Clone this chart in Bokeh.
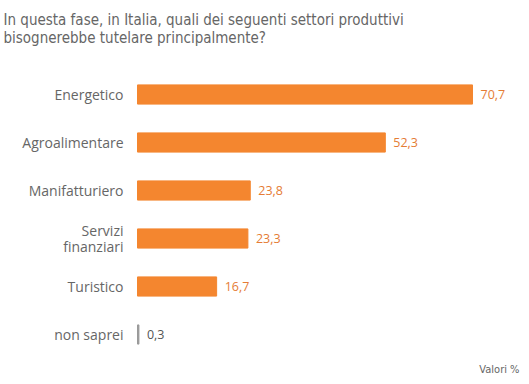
from bokeh.plotting import figure
from bokeh.models import ColumnDataSource, Range1d, Label
from bokeh.embed import file_html
from bokeh.resources import INLINE
from bokeh.core.properties import value

categories = ["Energetico", "Agroalimentare", "Manifatturiero", "Servizi\nfinanziari", "Turistico", "non saprei"]
values = [70.7, 52.3, 23.8, 23.3, 16.7, 0.3]
value_labels = ["70,7", "52,3", "23,8", "23,3", "16,7", "0,3"]

W, H = 521, 376
px_per_unit = 335 / 70.7
x0_px = 137
x_start = -x0_px / px_per_unit
x_end = (W - x0_px) / px_per_unit
row_px = 48
first_px = 94
y_top = -first_px / row_px
y_bot = (H - first_px) / row_px

idx = list(range(len(categories)))
bar_colors = ["#F4862F" if v >= 1 else "#999999" for v in values]
lab_colors = ["#E57C34" if v >= 1 else "#555555" for v in values]

src = ColumnDataSource(dict(y=idx, v=values, cat=categories, lab=value_labels,
                            bc=bar_colors, lc=lab_colors,
                            cx=[-14 / px_per_unit] * len(idx)))

p = figure(width=W, height=H, output_backend="svg", toolbar_location=None,
           x_range=Range1d(x_start, x_end), y_range=Range1d(y_bot, y_top),
           min_border=0, outline_line_color=None)
p.xaxis.visible = False
p.yaxis.visible = False
p.grid.visible = False

p.hbar(y="y", left=0, right="v", height=0.4, color="bc", source=src)
p.text(x="v", y="y", text="lab", source=src, x_offset=8, text_baseline="middle",
       text_align="left", text_color="lc", text_font=value("Open Sans"),
       text_font_size="12.5px")
p.text(x="cx", y="y", text="cat", source=src, text_baseline="middle",
       text_align="right", text_color="#666666", text_font=value("Open Sans"),
       text_font_size="14px", text_line_height=0.8)

p.add_layout(Label(x=3, y=H - 10, x_units="screen", y_units="screen",
                   text="In questa fase, in Italia, quali dei seguenti settori produttivi\nbisognerebbe tutelare principalmente?",
                   text_font="DejaVu Sans Condensed", text_font_size="15px",
                   text_color="#666666", text_baseline="top", text_line_height=1.05))
p.add_layout(Label(x=W - 2, y=1, x_units="screen", y_units="screen",
                   text="Valori %", text_font="DejaVu Sans Condensed",
                   text_font_size="11px", text_color="#666666", text_align="right",
                   text_baseline="bottom"))

open("out.html", "w").write(file_html(p, INLINE))
